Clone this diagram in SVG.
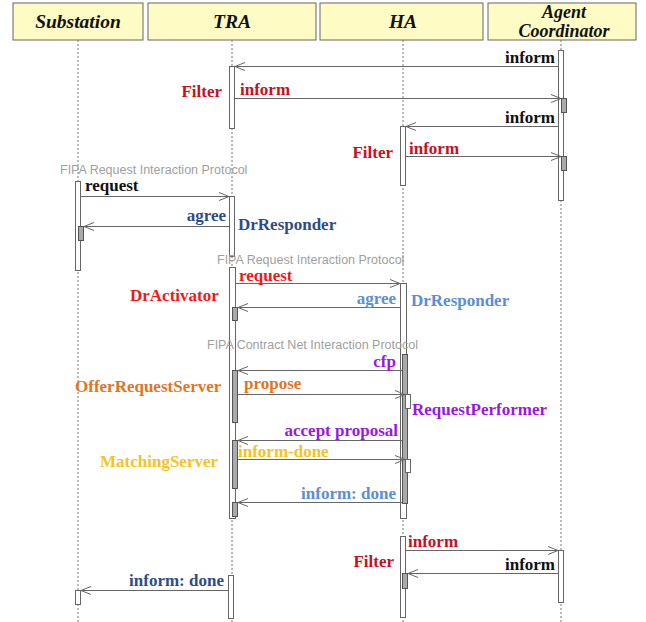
<svg xmlns="http://www.w3.org/2000/svg" width="646" height="622" viewBox="0 0 646 622">
<style>
.hdr{fill:#fefcc4;stroke:#666;stroke-width:1}
.ht{font-family:"Liberation Serif",serif;font-weight:bold;font-style:italic;font-size:19.5px;fill:#111;text-anchor:middle}
.h2{font-size:18px}
.life{stroke:#777;stroke-width:1;stroke-dasharray:2,2;fill:none}
.bar{fill:#fff;stroke:#666;stroke-width:1}
.gbar{fill:#aaa;stroke:#555;stroke-width:1}
.msg{stroke:#666;stroke-width:1;fill:none;marker-end:url(#arr)}
.l{font-family:"Liberation Serif",serif;font-weight:bold;font-size:17px}
.e{text-anchor:end}
.p{font-family:"Liberation Sans",Arial,sans-serif;font-size:12.5px;fill:#a0a0a0}
.k{fill:#111}.r{fill:#c8101e}.br{fill:#f01818}.db{fill:#2e4d86}.lb{fill:#5b8ed6}.pu{fill:#9a16e8}.or{fill:#e4741e}.ye{fill:#f6c320}
</style>
<defs>
<marker id="arr" markerWidth="12" markerHeight="10" refX="11" refY="5" orient="auto" markerUnits="userSpaceOnUse">
<path d="M1,1 L11,5 L1,9" fill="none" stroke="#666" stroke-width="1"/>
</marker>
</defs>
<rect width="646" height="622" fill="#fff"/>
<g id="substation">
<rect class="hdr" x="13" y="3" width="130" height="37"/>
<text class="ht" x="78" y="28">Substation</text>
<line class="life" x1="78" y1="40" x2="78" y2="622"/>
</g>
<g id="tra">
<rect class="hdr" x="148" y="3" width="168" height="37"/>
<text class="ht" x="232" y="28">TRA</text>
<line class="life" x1="232" y1="40" x2="232" y2="622"/>
</g>
<g id="ha">
<rect class="hdr" x="320" y="3" width="163" height="37"/>
<text class="ht" x="403" y="28">HA</text>
<line class="life" x1="403" y1="40" x2="403" y2="622"/>
</g>
<g id="agent-coordinator">
<rect class="hdr" x="488" y="3" width="148" height="37"/>
<text class="ht h2" x="564" y="18">Agent</text>
<text class="ht h2" x="564" y="37">Coordinator</text>
<line class="life" x1="561" y1="40" x2="561" y2="622"/>
</g>
<g id="activations">
<rect class="bar" x="558.5" y="50.5" width="5" height="150"/>
<rect class="gbar" x="561.5" y="98.5" width="5" height="14"/>
<rect class="gbar" x="561.5" y="156.5" width="5" height="14"/>
<rect class="bar" x="229.5" y="66.5" width="5" height="62"/>
<rect class="bar" x="400.5" y="126.5" width="5" height="59"/>
<rect class="bar" x="75.5" y="181.5" width="5" height="89"/>
<rect class="gbar" x="78.5" y="226.5" width="5" height="14"/>
<rect class="bar" x="229.5" y="196.5" width="5" height="60"/>
<rect class="bar" x="229.5" y="267.5" width="6" height="251"/>
<rect class="gbar" x="232.5" y="307.5" width="5" height="13"/>
<rect class="bar" x="400.5" y="283.5" width="6" height="235"/>
<rect class="gbar" x="402.5" y="354.5" width="5" height="149"/>
<rect class="gbar" x="232.5" y="370.5" width="5" height="52"/>
<rect class="bar" x="405.5" y="394.5" width="5" height="14"/>
<rect class="gbar" x="232.5" y="440.5" width="5" height="48"/>
<rect class="bar" x="405.5" y="459.5" width="5" height="13"/>
<rect class="gbar" x="232.5" y="502.5" width="5" height="14"/>
<rect class="bar" x="400.5" y="536.5" width="5" height="81"/>
<rect class="gbar" x="402.5" y="573.5" width="5" height="15"/>
<rect class="bar" x="558.5" y="550.5" width="5" height="52"/>
<rect class="bar" x="228.5" y="575.5" width="5" height="43"/>
<rect class="bar" x="75.5" y="590.5" width="5" height="14"/>
</g>
<g id="connectors">
<line class="msg" x1="558" y1="66.5" x2="235" y2="66.5"/>
<line class="msg" x1="235" y1="98.5" x2="561" y2="98.5"/>
<line class="msg" x1="558" y1="126.5" x2="406" y2="126.5"/>
<line class="msg" x1="406" y1="156.5" x2="561" y2="156.5"/>
<line class="msg" x1="81" y1="196.5" x2="229" y2="196.5"/>
<line class="msg" x1="229" y1="226.5" x2="84" y2="226.5"/>
<line class="msg" x1="236" y1="283.5" x2="400" y2="283.5"/>
<line class="msg" x1="400" y1="307.5" x2="238" y2="307.5"/>
<line class="msg" x1="402" y1="370.5" x2="238" y2="370.5"/>
<line class="msg" x1="238" y1="394.5" x2="405" y2="394.5"/>
<line class="msg" x1="402" y1="440.5" x2="238" y2="440.5"/>
<line class="msg" x1="238" y1="459.5" x2="405" y2="459.5"/>
<line class="msg" x1="402" y1="502.5" x2="238" y2="502.5"/>
<line class="msg" x1="406" y1="550.5" x2="558" y2="550.5"/>
<line class="msg" x1="558" y1="573.5" x2="408" y2="573.5"/>
<line class="msg" x1="228" y1="590.5" x2="81" y2="590.5"/>
</g>
<g id="labels">
<text class="l k e" x="555" y="63">inform</text>
<text class="l r e" x="222" y="97">Filter</text>
<text class="l r" x="240" y="95">inform</text>
<text class="l k e" x="555" y="123">inform</text>
<text class="l r e" x="393" y="158">Filter</text>
<text class="l r" x="409" y="154">inform</text>
<text class="p" x="60" y="174">FIPA Request Interaction Protocol</text>
<text class="l k" x="85" y="191">request</text>
<text class="l db e" x="226" y="221">agree</text>
<text class="l db" x="238" y="230">DrResponder</text>
<text class="p" x="217" y="264">FIPA Request Interaction Protocol</text>
<text class="l br" x="239" y="281">request</text>
<text class="l br" x="130" y="301">DrActivator</text>
<text class="l lb e" x="396" y="304">agree</text>
<text class="l lb" x="411" y="306">DrResponder</text>
<text class="p" x="207" y="349">FIPA Contract Net Interaction Protocol</text>
<text class="l pu e" x="396" y="367">cfp</text>
<text class="l or" x="75" y="392">OfferRequestServer</text>
<text class="l or" x="244" y="389">propose</text>
<text class="l pu" x="412" y="415">RequestPerformer</text>
<text class="l pu e" x="398" y="436">accept proposal</text>
<text class="l ye" x="100" y="467">MatchingServer</text>
<text class="l ye" x="238" y="457">inform-done</text>
<text class="l lb e" x="396" y="499">inform: done</text>
<text class="l r" x="408" y="547">inform</text>
<text class="l r e" x="394" y="567">Filter</text>
<text class="l k e" x="555" y="570">inform</text>
<text class="l db e" x="224" y="586">inform: done</text>
</g>
</svg>
